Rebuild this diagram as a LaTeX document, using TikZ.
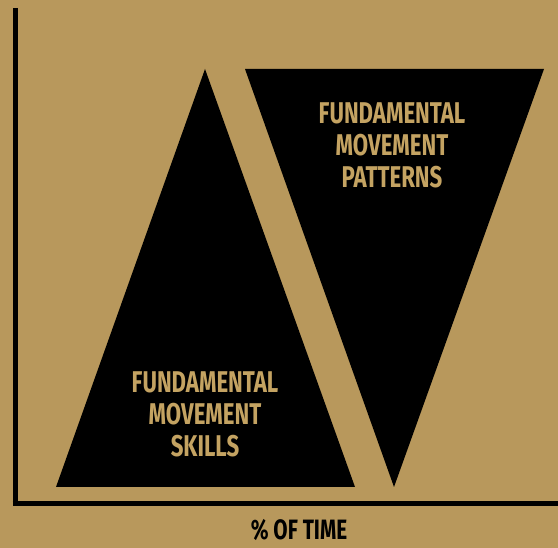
\documentclass[tikz,border=0pt]{standalone}
\usepackage{fontspec}
\newfontfamily\labelfont[FakeStretch=0.74]{Fira Sans}
\definecolor{tan}{RGB}{184,152,92}
\definecolor{tanlight}{RGB}{196,163,98}

\begin{document}
\begin{tikzpicture}[
  x=1pt, y=-1pt,
  axis/.style={line width=5pt, draw=black},
  tri/.style={fill=black},
  label/.style={align=center, text=tanlight, font=\labelfont\bfseries\fontsize{30}{32}\selectfont},
  axislabel/.style={text=black, inner sep=0pt, font=\labelfont\bfseries\fontsize{28}{30}\selectfont}
]
% background
\fill[tan] (0,0) rectangle (558,548);
\useasboundingbox (0,0) rectangle (558,548);

% axes
\coordinate (top) at (15,8);
\coordinate (origin) at (15,504);
\coordinate (right) at (558,504);
\draw[axis] (top) -- (origin);
\draw[axis] (12.5,504) -- (right);

% skills triangle
\coordinate (sa) at (205,69);
\coordinate (sl) at (56,487);
\coordinate (sr) at (355,487);
\fill[tri] (sa) -- (sl) -- (sr) -- cycle;

% patterns triangle
\coordinate (pl) at (245,69);
\coordinate (pr) at (544,69);
\coordinate (pb) at (394,487);
\fill[tri] (pl) -- (pr) -- (pb) -- cycle;

\node[label] (patterns) at (392,145) {FUNDAMENTAL\\MOVEMENT\\PATTERNS};
\node[label] (skills) at (205,414) {FUNDAMENTAL\\MOVEMENT\\SKILLS};
\node[axislabel, anchor=base] (time) at (299,540) {\% OF TIME};
\end{tikzpicture}
\end{document}
